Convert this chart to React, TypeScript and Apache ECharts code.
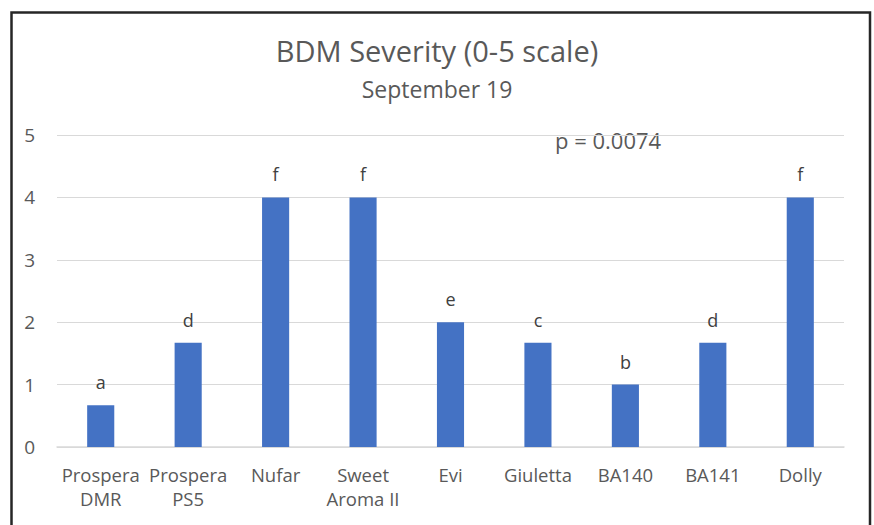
import React, { useEffect, useRef } from "react";
import * as echarts from "echarts";

const categories = ["Prospera\nDMR", "Prospera\nPS5", "Nufar", "Sweet\nAroma II", "Evi", "Giuletta", "BA140", "BA141", "Dolly"];
const severity = [0.67, 1.67, 4, 4, 2, 1.67, 1, 1.67, 4];
const letters = ["a", "d", "f", "f", "e", "c", "b", "d", "f"];
const yTicks = { min: 0, max: 5, interval: 1 };
const titleText = "BDM Severity (0-5 scale)";
const subtitleText = "September 19";
const pText = "p = 0.0074";

const FONT = "'Open Sans', 'Noto Sans', sans-serif";
const GREY = "#595959";

export default function App() {
  const ref = useRef<HTMLDivElement>(null);
  useEffect(() => {
    if (!ref.current) return;
    const chart = echarts.init(ref.current, undefined, { renderer: "svg" });
    chart.setOption({
      animation: false,
      backgroundColor: "#ffffff",
      textStyle: { fontFamily: FONT },
      title: [
        {
          text: titleText,
          left: "center",
          top: 31,
          textStyle: { fontFamily: FONT, fontSize: 29, fontWeight: "normal", color: GREY },
        },
        {
          text: subtitleText,
          left: "center",
          top: 72,
          textStyle: { fontFamily: FONT, fontSize: 23, fontWeight: "normal", color: GREY },
        },
      ],
      grid: { left: 57, right: 30, top: 135, bottom: 78, containLabel: false },
      xAxis: {
        type: "category",
        data: categories,
        axisLine: { show: true, lineStyle: { color: "#d9d9d9", width: 1.5 } },
        axisTick: { show: false },
        axisLabel: { color: GREY, fontSize: 18.5, fontFamily: FONT, margin: 15, lineHeight: 24, interval: 0 },
      },
      yAxis: {
        type: "value",
        min: yTicks.min,
        max: yTicks.max,
        interval: yTicks.interval,
        axisLine: { show: false },
        axisTick: { show: false },
        axisLabel: { color: GREY, fontSize: 19, fontFamily: FONT, margin: 22 },
        splitLine: { lineStyle: { color: "#d9d9d9", width: 1.2 } },
      },
      series: [
        {
          type: "bar",
          data: severity,
          barWidth: "31%",
          itemStyle: { color: "#4472c4" },
          label: {
            show: true,
            position: "top",
            distance: 14,
            color: "#404040",
            fontSize: 18,
            fontFamily: FONT,
            formatter: (p: any) => letters[p.dataIndex],
          },
        },
      ],
      graphic: [
        {
          type: "text",
          left: 555,
          top: 129,
          style: { text: pText, fontSize: 22, fontFamily: FONT, fill: GREY },
        },
        {
          type: "rect",
          shape: { x: 11.5, y: 12.5, width: 858.5, height: 530 },
          style: { fill: "none", stroke: "#262626", lineWidth: 2.5 },
          silent: true,
        },
      ],
    });
    return () => chart.dispose();
  }, []);
  return <div ref={ref} style={{ position: "fixed", left: 0, top: 0, width: 874, height: 525 }} />;
}
